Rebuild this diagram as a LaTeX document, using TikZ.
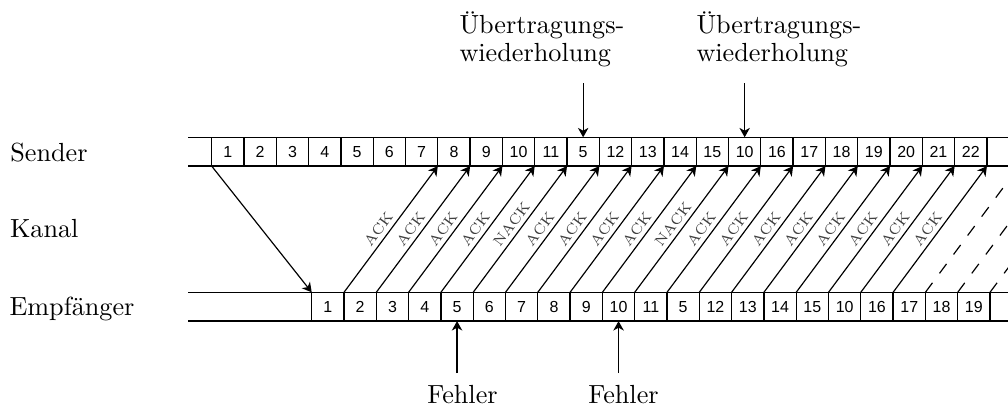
\documentclass[tikz,border=0pt]{standalone}
\usepackage{fontspec}
\newfontfamily\cellfont{Liberation Sans}
\usetikzlibrary{arrows.meta}
\renewcommand{\arraystretch}{0.9}
\begin{document}
\begin{tikzpicture}[x=0.3817pt, y=-0.3817pt,
  cell/.style={draw, line width=0.5pt, minimum width=12.33pt, minimum height=11pt,
    inner sep=0pt, outer sep=0pt, font=\cellfont\fontsize{6.1pt}{7pt}\selectfont},
  frame/.style={line width=0.5pt},
  arr/.style={line width=0.45pt, -{Stealth[length=3.6pt,width=4pt,inset=1.1pt]}},
  lost/.style={line width=0.45pt, dash pattern=on 4.5pt off 4.5pt},
  fb/.style={sloped, anchor=south west, pos=0.3, inner sep=1.5pt,
    font=\fontsize{5.5pt}{6pt}\selectfont, text=black!75},
  lbl/.style={anchor=base west, inner sep=0pt},
  note/.style={anchor=base west, inner sep=0pt},
  err/.style={anchor=base, inner sep=0pt}]
\useasboundingbox (0,0) rectangle (1008,407);
\clip (0,0) rectangle (1008,407);

% row labels
\node[lbl] (snd) at (9.8,161.7) {Sender};
\node[lbl] (kan) at (9.5,237.5) {Kanal};
\node[lbl] (emp) at (9,315) {Empfänger};

% frames of both rows
\draw[frame] (188.3,137.3) -- (1030,137.3);
\draw[frame] (188.3,166.1) -- (1030,166.1);
\draw[frame] (188.3,292.3) -- (1030,292.3);
\draw[frame] (188.3,321.1) -- (1030,321.1);

% sent frames
\foreach \t [count=\k] in {1,2,3,4,5,6,7,8,9,10,11,5,12,13,14,15,10,16,17,18,19,20,21,22}
  \node[cell] (s\k) at ({211.7+(\k-0.5)*32.3},151.7) {\t};

% received frames
\foreach \t [count=\k] in {1,2,3,4,5,6,7,8,9,10,11,5,12,13,14,15,10,16,17,18,19}
  \node[cell] (r\k) at ({311.7+(\k-0.5)*32.3},306.7) {\t};

% first transmission through the channel
\draw[arr] (s1.south west) -- (r1.north west);

% acknowledgements
\foreach \j/\m in {1/ACK,2/ACK,3/ACK,4/ACK,5/NACK,6/ACK,7/ACK,8/ACK,9/ACK,10/NACK,
    11/ACK,12/ACK,13/ACK,14/ACK,15/ACK,16/ACK,17/ACK,18/ACK} {
  \pgfmathtruncatemacro\k{\j+6}
  \draw[arr] (r\j.north east) -- node[fb] {\m} (s\k.south east);
}

% acknowledgements still on their way
\foreach \j in {19,20,21} {
  \pgfmathsetmacro\xe{211.7+(\j+6)*32.3}
  \coordinate (e\j) at (\xe,166.1);
  \draw[lost] (r\j.north east) -- (e\j);
}

% retransmissions
\node[note] (uw1) at (459,33.3)
  {\begin{tabular}[t]{@{}l@{}}Übertragungs-\\wiederholung\end{tabular}};
\node[note] (uw2) at (696,33.3)
  {\begin{tabular}[t]{@{}l@{}}Übertragungs-\\wiederholung\end{tabular}};
\path (s12.north) ++(0,-54) coordinate (ua1);
\path (s17.north) ++(0,-54) coordinate (ua2);
\draw[arr] (ua1) -- (s12.north);
\draw[arr] (ua2) -- (s17.north);

% errors
\node[err] (fe1) at (462.5,403.3) {Fehler};
\node[err] (fe2) at (623.5,403.3) {Fehler};
\path (r5.south) ++(0,52) coordinate (fa1);
\path (r10.south) ++(0,52) coordinate (fa2);
\draw[arr] (fa1) -- (r5.south);
\draw[arr] (fa2) -- (r10.south);
\end{tikzpicture}
\end{document}
